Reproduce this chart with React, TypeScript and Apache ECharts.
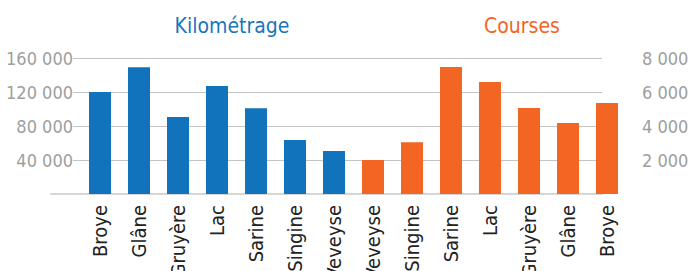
import React, { useEffect, useRef } from "react";
import * as echarts from "echarts";

const categories = [
  "Broye", "Glâne", "Gruyère", "Lac", "Sarine", "Singine", "Veveyse",
  "Veveyse", "Singine", "Sarine", "Lac", "Gruyère", "Glâne", "Broye",
];
const kilometrage = [120000, 149000, 90500, 127000, 101000, 63500, 50500];
const courses = [2000, 3050, 7470, 6590, 5060, 4180, 5350];
const leftTicks = { min: 0, max: 160000, interval: 40000 };
const rightTicks = { min: 0, max: 8000, interval: 2000 };
const titles = ["Kilométrage", "Courses"];

const FONT = "'Liberation Sans Narrow', 'DejaVu Sans Condensed', 'Roboto Condensed', sans-serif";
const BLUE = "#1173bb";
const ORANGE = "#f26522";

const fmt = (v: number) =>
  v === 0 ? "" : String(v).replace(/\B(?=(\d{3})+(?!\d))/g, " ");

export default function App() {
  const ref = useRef<HTMLDivElement>(null);
  useEffect(() => {
    document.body.style.margin = "0";
    const chart = echarts.init(ref.current!, undefined, { renderer: "svg" });
    const blueData = categories.map((_, i) => (i < kilometrage.length ? kilometrage[i] : "-"));
    const orangeData = categories.map((_, i) =>
      i >= kilometrage.length ? courses[i - kilometrage.length] : "-"
    );
    const gridBase = { top: 58, height: 136, outerBoundsMode: "none", containLabel: false };
    chart.setOption({
      animation: false,
      title: [
        {
          text: titles[0], left: 227, top: 10, textAlign: "center",
          textStyle: { color: "#1a75bc", fontFamily: FONT, fontSize: 21, fontWeight: "normal" },
        },
        {
          text: titles[1], left: 517, top: 10, textAlign: "center",
          textStyle: { color: ORANGE, fontFamily: FONT, fontSize: 21, fontWeight: "normal" },
        },
      ],
      grid: [
        { ...gridBase, left: 51, width: 551 },
        { ...gridBase, left: 73, width: 529 },
        { ...gridBase, left: 80.5, width: 546 },
      ],
      xAxis: [
        {
          gridIndex: 0, type: "value", min: 0, max: 1, show: true,
          axisLine: { show: true, lineStyle: { color: "#d6d6d6", width: 2 } },
          axisTick: { show: false }, axisLabel: { show: false }, splitLine: { show: false },
        },
        { gridIndex: 1, type: "value", show: false },
        {
          gridIndex: 2, type: "category", data: categories,
          axisLine: { show: false }, axisTick: { show: false },
          axisLabel: {
            rotate: 90, interval: 0, margin: 11, color: "#222",
            fontFamily: FONT, fontSize: 20,
          },
        },
      ],
      yAxis: [
        { gridIndex: 0, type: "value", show: false, min: 0, max: 1 },
        {
          gridIndex: 1, type: "value", ...leftTicks,
          axisLine: { show: false }, axisTick: { show: false }, axisLabel: { show: false },
          splitLine: { show: true, lineStyle: { color: "#c4c4c4", width: 1 } },
        },
        {
          gridIndex: 2, type: "value", position: "left", ...leftTicks,
          axisLine: { show: false }, axisTick: { show: false }, splitLine: { show: false },
          axisLabel: { margin: 7.5, color: "#9e9e9e", fontFamily: FONT, fontSize: 18, formatter: fmt },
        },
        {
          gridIndex: 2, type: "value", position: "right", ...rightTicks,
          axisLine: { show: false }, axisTick: { show: false }, splitLine: { show: false },
          axisLabel: { margin: 15.5, color: "#9e9e9e", fontFamily: FONT, fontSize: 18, formatter: fmt },
        },
      ],
      series: [
        {
          type: "bar", xAxisIndex: 2, yAxisIndex: 2, data: blueData,
          barWidth: 22, barGap: "-100%", itemStyle: { color: BLUE },
        },
        {
          type: "bar", xAxisIndex: 2, yAxisIndex: 3, data: orangeData,
          barWidth: 22, barGap: "-100%", itemStyle: { color: ORANGE },
        },
      ],
    });
    return () => chart.dispose();
  }, []);
  return <div ref={ref} style={{ width: 689, height: 271 }} />;
}
